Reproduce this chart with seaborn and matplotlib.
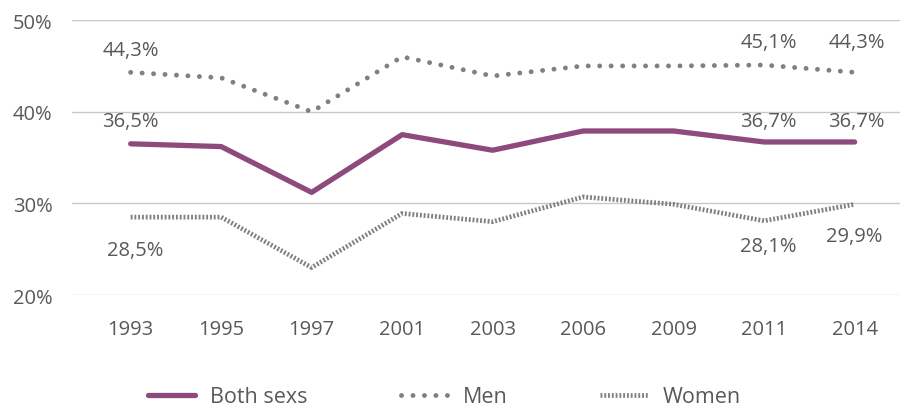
import pandas as pd
import matplotlib.pyplot as plt
import seaborn as sns

years = ["1993", "1995", "1997", "2001", "2003", "2006", "2009", "2011", "2014"]
both = [36.5, 36.2, 31.2, 37.5, 35.8, 37.9, 37.9, 36.7, 36.7]
men = [44.3, 43.7, 40.0, 46.0, 43.9, 45.0, 45.0, 45.1, 44.3]
women = [28.5, 28.5, 23.0, 28.9, 28.0, 30.7, 29.9, 28.1, 29.9]

series = {"Both sexs": both, "Men": men, "Women": women}
df = pd.concat([pd.DataFrame({"Year": years, "Value": v, "Series": k}) for k, v in series.items()])

sns.set_style("white")
plt.rcParams["font.family"] = ["Open Sans", "DejaVu Sans"]
text_color = "#595959"
purple = "#8E4A7D"
grey = "#808080"
fs = 14.5

fig = plt.figure(figsize=(9.09, 4.14), dpi=100)
ax = fig.add_axes([0.079, 0.285, 0.911, 0.664])

styles = {
    "Both sexs": dict(color=purple, lw=3.8, ls="-"),
    "Men": dict(color=grey, lw=3.5, ls=(0, (0.01, 2.35))),
    "Women": dict(color=grey, lw=3.4, ls=(0, (0.4, 0.4))),
}
for name in series:
    sub = df[df["Series"] == name]
    st = styles[name]
    sns.lineplot(data=sub, x="Year", y="Value", ax=ax, color=st["color"], lw=st["lw"],
                 label=name, sort=False)
    line = ax.lines[-1]
    line.set_linestyle(st["ls"])
    if name == "Men":
        line.set_dash_capstyle("round")

ax.set_ylim(20, 50)
ax.set_xlim(-0.65, 8.5)
ax.set_yticks([20, 30, 40, 50])
ax.set_yticklabels([f"{t}%" for t in [20, 30, 40, 50]])
ax.yaxis.grid(True, color="#c8c8c8", lw=1)
ax.set_axisbelow(True)
for s in ["top", "right", "left", "bottom"]:
    ax.spines[s].set_visible(False)
ax.tick_params(axis="both", length=0, labelsize=fs, labelcolor=text_color)
ax.tick_params(axis="x", pad=17)
ax.tick_params(axis="y", pad=14)
ax.set_xlabel("")
ax.set_ylabel("")


def fmt(v):
    return f"{v:.1f}%".replace(".", ",")


lbl = dict(fontsize=fs, color=text_color, ha="center", va="center")
ax.text(0, men[0] + 2.4, fmt(men[0]), **lbl)
ax.text(7.05, men[7] + 2.5, fmt(men[7]), **lbl)
ax.text(8.02, men[8] + 3.3, fmt(men[8]), **lbl)
ax.text(0, both[0] + 2.5, fmt(both[0]), **lbl)
ax.text(7.05, both[7] + 2.3, fmt(both[7]), **lbl)
ax.text(8.02, both[8] + 2.3, fmt(both[8]), **lbl)
ax.text(0.05, women[0] - 3.6, fmt(women[0]), **lbl)
ax.text(7.04, women[7] - 2.7, fmt(women[7]), **lbl)
ax.text(8.0, women[8] - 3.5, fmt(women[8]), **lbl)

leg = ax.legend(loc="center", bbox_to_anchor=(0.45, -0.37), ncol=3, frameon=False,
                prop={"size": 15.5}, handlelength=2.2, columnspacing=4.3, handletextpad=0.7)
for t in leg.get_texts():
    t.set_color(text_color)

fig.savefig("out.png", dpi=100)
